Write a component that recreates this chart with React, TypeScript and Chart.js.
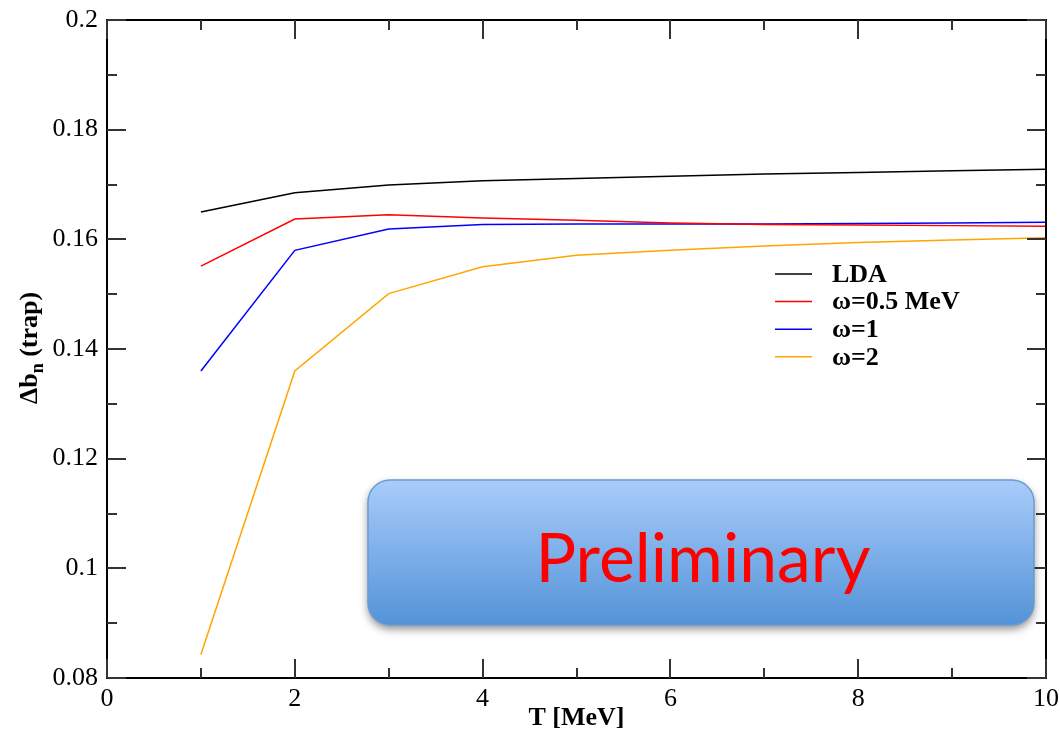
import React, { useEffect, useRef } from 'react';
import { Chart, registerables } from 'chart.js';

Chart.register(...registerables);

const temps = [1, 2, 3, 4, 5, 6, 7, 8, 9, 10];
const lda = [0.1650, 0.1685, 0.1699, 0.1707, 0.1711, 0.1715, 0.1719, 0.1722, 0.1725, 0.1728];
const omega05 = [0.1551, 0.1637, 0.1645, 0.1639, 0.1635, 0.1630, 0.1627, 0.1626, 0.1625, 0.1624];
const omega1 = [0.1360, 0.1580, 0.1619, 0.1627, 0.1628, 0.1628, 0.1628, 0.1629, 0.1630, 0.1631];
const omega2 = [0.0843, 0.1360, 0.1501, 0.1550, 0.1571, 0.1580, 0.1588, 0.1594, 0.1599, 0.1603];
const seriesValues = [lda, omega05, omega1, omega2];
const seriesLabels = ['LDA', 'ω=0.5 MeV', 'ω=1', 'ω=2'];
const seriesColors = ['#000000', '#ff0000', '#0000ff', '#ffa500'];

const xMajorTicks = [0, 2, 4, 6, 8, 10];
const xMinorTicks = [1, 3, 5, 7, 9];
const yMajorTicks = [0.08, 0.1, 0.12, 0.14, 0.16, 0.18, 0.2];
const yMinorTicks = [0.09, 0.11, 0.13, 0.15, 0.17, 0.19];

const xTitle = 'T [MeV]';
const yTitleMain = 'Δb';
const yTitleSub = 'n';
const yTitleRest = ' (trap)';
const watermark = 'Preliminary';

const SERIF = '"Liberation Serif", "Times New Roman", serif';

const framePlugin = {
  id: 'framePlugin',
  afterDraw(chart: any) {
    const ctx = chart.ctx;
    const { left, right, top, bottom } = chart.chartArea;
    const xs = chart.scales.x;
    const ys = chart.scales.y;
    ctx.save();
    // frame
    ctx.strokeStyle = '#000';
    ctx.lineWidth = 2;
    ctx.strokeRect(left, top, right - left, bottom - top);
    // ticks
    ctx.strokeStyle = '#333';
    ctx.lineWidth = 2;
    const drawX = (vals: number[], len: number) => {
      vals.forEach((v) => {
        const px = Math.round(xs.getPixelForValue(v));
        ctx.beginPath();
        ctx.moveTo(px, bottom);
        ctx.lineTo(px, bottom - len);
        ctx.moveTo(px, top);
        ctx.lineTo(px, top + len);
        ctx.stroke();
      });
    };
    const drawY = (vals: number[], len: number) => {
      vals.forEach((v) => {
        const py = Math.round(ys.getPixelForValue(v));
        ctx.beginPath();
        ctx.moveTo(left, py);
        ctx.lineTo(left + len, py);
        ctx.moveTo(right, py);
        ctx.lineTo(right - len, py);
        ctx.stroke();
      });
    };
    drawX(xMajorTicks, 19);
    drawX(xMinorTicks, 10);
    drawY(yMajorTicks, 19);
    drawY(yMinorTicks, 10);

    // legend
    const legX0 = 775;
    const legX1 = 812;
    const legTextX = 832;
    const legY0 = 274;
    const legDy = 27.6;
    ctx.font = `bold 26px ${SERIF}`;
    ctx.textAlign = 'left';
    ctx.textBaseline = 'middle';
    seriesLabels.forEach((lab, i) => {
      const y = legY0 + i * legDy;
      ctx.strokeStyle = seriesColors[i];
      ctx.lineWidth = 1.5;
      ctx.beginPath();
      ctx.moveTo(legX0, y);
      ctx.lineTo(legX1, y);
      ctx.stroke();
      ctx.fillStyle = '#000';
      ctx.fillText(lab, legTextX, y + 1);
    });

    // y title
    ctx.save();
    ctx.translate(37, 348);
    ctx.rotate(-Math.PI / 2);
    ctx.fillStyle = '#000';
    ctx.textBaseline = 'alphabetic';
    ctx.textAlign = 'left';
    const mainFont = `bold 26px ${SERIF}`;
    const subFont = `bold 18px ${SERIF}`;
    ctx.font = mainFont;
    const w1 = ctx.measureText(yTitleMain).width;
    const w3 = ctx.measureText(yTitleRest).width;
    ctx.font = subFont;
    const w2 = ctx.measureText(yTitleSub).width;
    let x = -(w1 + w2 + w3) / 2;
    ctx.font = mainFont;
    ctx.fillText(yTitleMain, x, 0);
    x += w1;
    ctx.font = subFont;
    ctx.fillText(yTitleSub, x, 6);
    x += w2;
    ctx.font = mainFont;
    ctx.fillText(yTitleRest, x, 0);
    ctx.restore();

    // Preliminary box
    const bx = 368, by = 480, bw = 666, bh = 145, br = 22;
    ctx.save();
    ctx.beginPath();
    ctx.roundRect(bx, by, bw, bh, br);
    const grad = ctx.createLinearGradient(0, by, 0, by + bh);
    grad.addColorStop(0, '#a9ccfb');
    grad.addColorStop(1, '#5393d7');
    ctx.fillStyle = grad;
    ctx.shadowColor = 'rgba(0,0,0,0.45)';
    ctx.shadowBlur = 8;
    ctx.shadowOffsetY = 4;
    ctx.fill();
    ctx.shadowColor = 'transparent';
    ctx.strokeStyle = '#6b9bd4';
    ctx.lineWidth = 1.5;
    ctx.stroke();
    ctx.restore();
    ctx.fillStyle = '#ff0000';
    ctx.font = '68px Lato, "Open Sans", sans-serif';
    ctx.textAlign = 'center';
    ctx.textBaseline = 'alphabetic';
    ctx.fillText(watermark, 703, 582, 335);

    ctx.restore();
  },
};

export default function App() {
  const canvasRef = useRef<HTMLCanvasElement | null>(null);

  useEffect(() => {
    const canvas = canvasRef.current;
    if (!canvas) return;
    const chart = new Chart(canvas, {
      type: 'line',
      data: {
        datasets: seriesValues.map((vals, i) => ({
          label: seriesLabels[i],
          data: temps.map((t, j) => ({ x: t, y: vals[j] })),
          borderColor: seriesColors[i],
          backgroundColor: seriesColors[i],
          borderWidth: 1.5,
          pointRadius: 0,
          tension: 0,
          fill: false,
        })),
      },
      options: {
        responsive: false,
        animation: false,
        layout: { padding: { top: 20, right: 14, left: 0, bottom: 0 } },
        plugins: {
          legend: { display: false },
          tooltip: { enabled: false },
        },
        scales: {
          x: {
            type: 'linear',
            min: 0,
            max: 10,
            afterBuildTicks: (s: any) => {
              s.ticks = xMajorTicks.map((v) => ({ value: v }));
            },
            afterFit: (s: any) => {
              s.height = 61;
              s.paddingLeft = 0;
              s.paddingRight = 0;
            },
            grid: { display: false, drawTicks: false },
            border: { display: false },
            ticks: {
              color: '#000',
              font: { family: SERIF, size: 26 },
              padding: 6,
              maxRotation: 0,
              autoSkip: false,
              callback: (v: any) => String(v),
            },
            title: {
              display: true,
              text: xTitle,
              color: '#000',
              font: { family: SERIF, size: 26, weight: 'bold' },
              padding: { top: 0, bottom: 5 },
            },
          },
          y: {
            type: 'linear',
            min: 0.08,
            max: 0.2,
            afterBuildTicks: (s: any) => {
              s.ticks = yMajorTicks.map((v) => ({ value: v }));
            },
            afterFit: (s: any) => {
              s.width = 107;
              s.paddingTop = 0;
              s.paddingBottom = 0;
            },
            grid: { display: false, drawTicks: false },
            border: { display: false },
            ticks: {
              color: '#000',
              font: { family: SERIF, size: 26 },
              padding: 9,
              autoSkip: false,
              callback: (v: any) => String(Number(Number(v).toFixed(2))),
            },
          },
        },
      },
      plugins: [framePlugin],
    } as any);
    return () => chart.destroy();
  }, []);

  return (
    <div style={{ position: 'absolute', left: 0, top: 0, width: 1060, height: 739, background: '#fff' }}>
      <canvas ref={canvasRef} width={1060} height={739} />
    </div>
  );
}
